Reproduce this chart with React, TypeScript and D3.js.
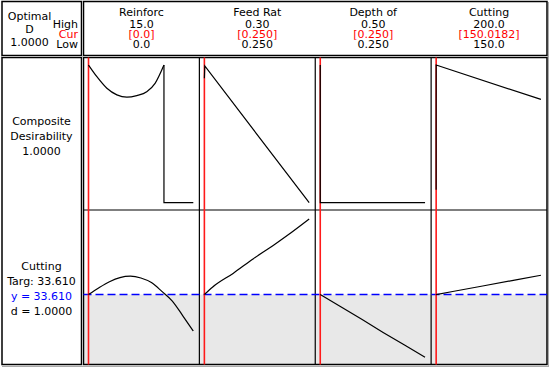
import React from "react";
import * as d3 from "d3";

// ---- data ----
const factorNames = ["Reinforc", "Feed Rat", "Depth of", "Cutting"];
const highLabels = ["15.0", "0.30", "0.50", "200.0"];
const curLabels = ["[0.0]", "[0.250]", "[0.250]", "[150.0182]"];
const lowLabels = ["0.0", "0.250", "0.250", "150.0"];
const lows = [0, 0.25, 0.25, 150];
const highs = [15, 0.3, 0.5, 200];
const currents = [0, 0.25, 0.25, 150.0182];

// composite desirability: smooth parts
const desCurveX1 = [0, 1.2, 2.63, 4.06, 5.49, 6.91, 8.34, 9.53, 10.8];
const desCurveY1 = [1, 0.915, 0.831, 0.783, 0.766, 0.778, 0.806, 0.867, 1.0];
// composite desirability: straight / step parts
const desStepX1 = [10.8, 10.8, 15];
const desStepY1 = [1, 0, 0];
const desStepX2 = [0.25, 0.2502, 0.3];
const desStepY2 = [0.904, 0.993, 0];
const desStepX3 = [0.25, 0.25, 0.5];
const desStepY3 = [1, 0, 0];
const desStepX4 = [150, 150, 150.0182, 200];
const desStepY4 = [0.094, 0.5, 1, 0.75];

// cutting force response curves
const resX1 = [0, 1.5, 3, 4.5, 6, 7.5, 9, 10.5, 12, 13.5, 15];
const resY1 = [33.61, 35.1, 36.4, 37.3, 37.6, 37.2, 36.2, 34.3, 32.2, 29.0, 25.7];
const resX2 = [0.25, 0.254, 0.2637, 0.2734, 0.283, 0.2895, 0.3];
const resY2 = [33.61, 35.26, 38.2, 41.4, 44.3, 46.4, 50];
const resX3 = [0.25, 0.3, 0.35, 0.4, 0.45, 0.5];
const resY3 = [33.61, 30.9, 28.2, 25.4, 22.7, 20.0];
const resX4 = [150, 157.9, 172.2, 188.1, 200];
const resY4 = [33.61, 34.27, 35.47, 36.8, 37.8];

const desCurveXs = [desCurveX1, [], [], []];
const desCurveYs = [desCurveY1, [], [], []];
const desStepXs = [desStepX1, desStepX2, desStepX3, desStepX4];
const desStepYs = [desStepY1, desStepY2, desStepY3, desStepY4];
const resXs = [resX1, resX2, resX3, resX4];
const resYs = [resY1, resY2, resY3, resY4];

const target = 33.61;
const forceDomain = [20, 50];
const optimalLines = ["Optimal", "D", "1.0000"];
const compLines = ["Composite", "Desirability", "1.0000"];
const respLines = ["Cutting", "Targ: 33.610", "y = 33.610", "d = 1.0000"];

export default function App() {
  const font = "DejaVu Sans, Verdana, sans-serif";
  const L = 83.5;
  const R = 547;
  const panelW = (R - L) / 4;
  const topH = 55.5;
  const panTop = 57.5;
  const mid = 210;
  const bot = 364.5;

  const yDes = d3.scaleLinear().domain([0, 1]).range([202.7, 65]);
  const yRes = d3.scaleLinear().domain(forceDomain).range([357.3, 219]);
  const yT = yRes(target);

  const panels = factorNames.map((name, i) => {
    const left = L + i * panelW;
    const x = d3.scaleLinear().domain([lows[i], highs[i]]).range([left + 5, left + 109.8]);
    const mk = (xs: number[], yScale: any, curve: any) =>
      xs.length
        ? d3
            .line<number>()
            .x((_, k) => x(xs[k]))
            .y((v) => yScale(v))
            .curve(curve)
        : null;
    const curveGen = mk(desCurveXs[i], yDes, d3.curveMonotoneX);
    const stepGen = mk(desStepXs[i], yDes, d3.curveLinear);
    const resGen = mk(resXs[i], yRes, i === 3 || i === 2 ? d3.curveLinear : d3.curveMonotoneX);
    return {
      name,
      i,
      left,
      x,
      desCurve: curveGen ? curveGen(desCurveYs[i]) || "" : "",
      desStep: stepGen ? stepGen(desStepYs[i]) || "" : "",
      res: resGen ? resGen(resYs[i]) || "" : "",
    };
  });

  return (
    <svg
      width={550}
      height={369}
      style={{ position: "absolute", left: 0, top: 0, background: "#fff" }}
      fontFamily={font}
      fontSize={11}
    >
      {/* shadow lines */}
      <line x1={2} x2={549} y1={366.5} y2={366.5} stroke="#aaa" strokeWidth={1} />
      <line x1={548.5} x2={548.5} y1={2} y2={367} stroke="#aaa" strokeWidth={1} />
      {/* grey fill below target */}
      <rect x={L} y={yT} width={R - L} height={bot - yT} fill="#e8e8e8" />

      {/* boxes */}
      <rect x={2} y={1.5} width={79.5} height={topH - 1.5} fill="none" stroke="#000" strokeWidth={1.5} />
      <rect x={2} y={panTop} width={79.5} height={bot - panTop} fill="none" stroke="#000" strokeWidth={1.5} />
      <rect x={L} y={1.5} width={R - L} height={topH - 1.5} fill="none" stroke="#000" strokeWidth={1.5} />
      <rect x={L} y={panTop} width={R - L} height={bot - panTop} fill="none" stroke="#000" strokeWidth={1.5} />
      <line x1={2} x2={R} y1={56.5} y2={56.5} stroke="#bbb" strokeWidth={1} />
      <line x1={82.5} x2={82.5} y1={1.5} y2={bot} stroke="#bbb" strokeWidth={1} />

      {/* row divider */}
      <line x1={L} x2={R} y1={mid} y2={mid} stroke="#000" strokeWidth={1.2} />

      {/* panel dividers */}
      {[1, 2, 3].map((k) => (
        <line key={k} x1={L + k * panelW} x2={L + k * panelW} y1={panTop} y2={bot} stroke="#000" strokeWidth={1.2} />
      ))}

      {/* target dashed line */}
      <line x1={L} x2={R} y1={yT} y2={yT} stroke="#0000ff" strokeWidth={1.4} strokeDasharray="8,4" />

      {/* header text left */}
      {optimalLines.map((t, k) => (
        <text key={t} x={29.5} y={19.5 + k * 13} textAnchor="middle" fill="#000">
          {t}
        </text>
      ))}
      <text x={78} y={28} textAnchor="end" fill="#000">High</text>
      <text x={78} y={37.5} textAnchor="end" fill="#ff0000">Cur</text>
      <text x={78} y={48} textAnchor="end" fill="#000">Low</text>

      {panels.map((p) => (
        <g key={p.name}>
          <text x={p.left + panelW / 2} y={16} textAnchor="middle" fill="#000">{p.name}</text>
          <text x={p.left + panelW / 2} y={27.5} textAnchor="middle" fill="#000">{highLabels[p.i]}</text>
          <text x={p.left + panelW / 2} y={37.5} textAnchor="middle" fill="#ff0000">{curLabels[p.i]}</text>
          <text x={p.left + panelW / 2} y={47.5} textAnchor="middle" fill="#000">{lowLabels[p.i]}</text>
          <line
            x1={p.x(currents[p.i])}
            x2={p.x(currents[p.i])}
            y1={panTop}
            y2={bot}
            stroke="#ff1a1a"
            strokeWidth={1.6}
          />
          {p.desCurve && <path d={p.desCurve} fill="none" stroke="#000" strokeWidth={1.2} />}
          <path d={p.desStep} fill="none" stroke="#000" strokeWidth={1.2} />
          <path d={p.res} fill="none" stroke="#000" strokeWidth={1.2} />
        </g>
      ))}

      {/* row labels */}
      {compLines.map((t, k) => (
        <text key={t} x={41.5} y={124.5 + k * 15} textAnchor="middle" fill="#000">{t}</text>
      ))}
      {respLines.map((t, k) => (
        <text key={t} x={41.5} y={270 + k * 15} textAnchor="middle" fill={k === 2 ? "#0000ff" : "#000"}>{t}</text>
      ))}
    </svg>
  );
}
